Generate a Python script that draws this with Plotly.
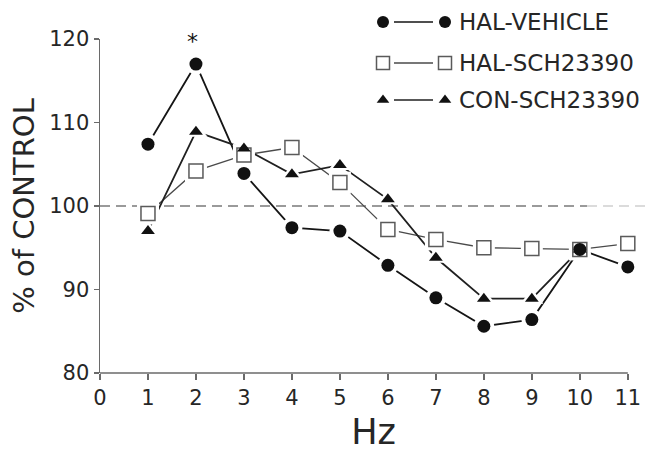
import plotly.graph_objects as go

# ---------------- data ----------------
HZ = [1, 2, 3, 4, 5, 6, 7, 8, 9, 10, 11]
HAL_VEHICLE = [107.4, 117.0, 103.9, 97.4, 97.0, 92.9, 89.0, 85.6, 86.4, 94.8, 92.7]
HAL_SCH23390 = [99.1, 104.2, 106.1, 107.0, 102.8, 97.2, 96.0, 95.0, 94.9, 94.8, 95.5]
CON_SCH23390 = [97.0, 108.9, 106.9, 103.8, 104.9, 100.8, 93.8, 88.9, 88.9, 94.8, None]
SERIES_NAMES = ["HAL-VEHICLE", "HAL-SCH23390", "CON-SCH23390"]
X_TICKS = list(range(0, 12))
Y_TICKS = [80, 90, 100, 110, 120]
CONTROL_LEVEL = 100
SIGNIF_HZ = [2]
SIGNIF_MARK = "*"
X_TITLE = "Hz"
Y_TITLE = "% of CONTROL"

# ---------------- styles ----------------
FONT = "DejaVu Sans"
TXT = "#262626"
AX = "#6a6a6a"
STYLES = [
    dict(symbol="circle", size=13, fill="#111111", edge="#111111", ew=0, lc="#151515", lw=1.8),
    dict(symbol="square", size=14, fill="white", edge="#5a5a5a", ew=1.5, lc="#4a4a4a", lw=1.3),
    dict(symbol="triangle-up", size=12, fill="#111111", edge="#111111", ew=0, lc="#202020", lw=1.8),
]
SERIES = [HAL_VEHICLE, HAL_SCH23390, CON_SCH23390]
MARKER_ORDER = [1, 2, 0]   # squares below, filled circles on top (as at 10 Hz)
X_MAX = 11.4

fig = go.Figure()

# lines
for vals, st in zip(SERIES, STYLES):
    fig.add_trace(go.Scatter(x=HZ, y=vals, mode="lines", connectgaps=False,
                             line=dict(color=st["lc"], width=st["lw"]),
                             showlegend=False, hoverinfo="skip"))
# white halos (gap between lines and markers)
for vals, st in zip(SERIES, STYLES):
    fig.add_trace(go.Scatter(x=HZ, y=vals, mode="markers",
                             marker=dict(symbol=st["symbol"], size=st["size"] + 8,
                                         color="white", line=dict(width=0)),
                             showlegend=False, hoverinfo="skip"))
# markers
for i in MARKER_ORDER:
    vals, st, nm = SERIES[i], STYLES[i], SERIES_NAMES[i]
    fig.add_trace(go.Scatter(x=HZ, y=vals, mode="markers", name=nm,
                             marker=dict(symbol=st["symbol"], size=st["size"],
                                         color=st["fill"],
                                         line=dict(color=st["edge"], width=st["ew"])),
                             showlegend=False))

# ---------------- custom legend (own pixel-like axes) ----------------
LEG_ROWS = [22, 63, 100]
LEG_MARK_X = [383, 445]
LEG_LINE_X = [394, 433]
LEG_TEXT_X = 457
for row, st, nm in zip(LEG_ROWS, STYLES, SERIES_NAMES):
    fig.add_trace(go.Scatter(x=LEG_LINE_X, y=[row, row], mode="lines",
                             line=dict(color=st["lc"], width=1.4),
                             xaxis="x3", yaxis="y3", showlegend=False, hoverinfo="skip"))
    fig.add_trace(go.Scatter(x=LEG_MARK_X, y=[row, row], mode="markers",
                             marker=dict(symbol=st["symbol"], size=st["size"] - 1,
                                         color=st["fill"],
                                         line=dict(color=st["edge"], width=st["ew"])),
                             xaxis="x3", yaxis="y3", showlegend=False, hoverinfo="skip"))
    fig.add_annotation(x=LEG_TEXT_X, y=row, xref="x3", yref="y3", text=nm,
                       showarrow=False, xanchor="left", yanchor="middle",
                       font=dict(family=FONT, size=23, color=TXT))

# significance mark
for h in SIGNIF_HZ:
    fig.add_annotation(x=h, y=Y_TICKS[-1], xref="x", yref="y", text=SIGNIF_MARK,
                       showarrow=False, xanchor="center", yanchor="middle",
                       xshift=-3, yshift=-2,
                       font=dict(family=FONT, size=22, color="#111"))

# control reference line (dashed, fading at right end as in the scan)
fig.add_shape(type="line", xref="x", yref="y", x0=0, x1=10.15,
              y0=CONTROL_LEVEL, y1=CONTROL_LEVEL, layer="below",
              line=dict(color="#7a7a7a", width=1.6, dash="10px,6px"))
fig.add_shape(type="line", xref="x", yref="y", x0=10.15, x1=X_MAX,
              y0=CONTROL_LEVEL, y1=CONTROL_LEVEL, layer="below",
              line=dict(color="#d0d0d0", width=1.6, dash="10px,6px"))
# x axis line from 0 to 11
fig.add_shape(type="line", xref="x", yref="paper", x0=X_TICKS[0], x1=X_TICKS[-1],
              y0=0, y1=0, line=dict(color=AX, width=1.5))

tickfont = dict(family=FONT, size=21, color=TXT)
fig.update_layout(
    width=655, height=452,
    margin=dict(l=100, r=8, t=10, b=79),
    paper_bgcolor="white", plot_bgcolor="rgba(0,0,0,0)",
    showlegend=False,
    xaxis=dict(range=[0, X_MAX], domain=[0, 1], tickvals=X_TICKS,
               ticktext=[str(v) for v in X_TICKS],
               showline=False, showgrid=False, zeroline=False,
               ticks="outside", ticklen=6, tickwidth=1.4, tickcolor=AX,
               tickfont=tickfont,
               title=dict(text=X_TITLE, font=dict(family=FONT, size=35, color=TXT), standoff=20),
               automargin=False),
    xaxis2=dict(overlaying="x", anchor="y", range=[0, X_MAX], tickvals=X_TICKS,
                showticklabels=False, showline=False, showgrid=False, zeroline=False,
                ticks="inside", ticklen=6, tickwidth=1.4, tickcolor=AX),
    yaxis=dict(range=[Y_TICKS[0], Y_TICKS[-1]], domain=[0, 0.9201], tickvals=Y_TICKS,
               showline=True, linecolor=AX, linewidth=1.5,
               showgrid=False, zeroline=False,
               ticks="outside", ticklen=5, tickwidth=1.4, tickcolor=AX,
               tickfont=tickfont,
               title=dict(text=Y_TITLE, font=dict(family=FONT, size=29, color=TXT), standoff=6),
               automargin=False),
    yaxis2=dict(overlaying="y", anchor="x", side="left", range=[Y_TICKS[0], Y_TICKS[-1]],
                tickvals=Y_TICKS, showticklabels=False, showline=False, showgrid=False,
                zeroline=False, ticks="inside", ticklen=5, tickwidth=1.4, tickcolor=AX),
    xaxis3=dict(domain=[0, 1], anchor="y3", range=[100, 647], visible=False, fixedrange=True),
    yaxis3=dict(domain=[0, 1], anchor="x3", range=[373, 10], visible=False, fixedrange=True),
)

# remove the browser's default 8px page margin so the figure sits at the window's corner
fig.write_html("out.html",
               config={"displayModeBar": False, "staticPlot": True},
               post_script="document.body.style.margin='0px';document.body.style.overflow='hidden';")
